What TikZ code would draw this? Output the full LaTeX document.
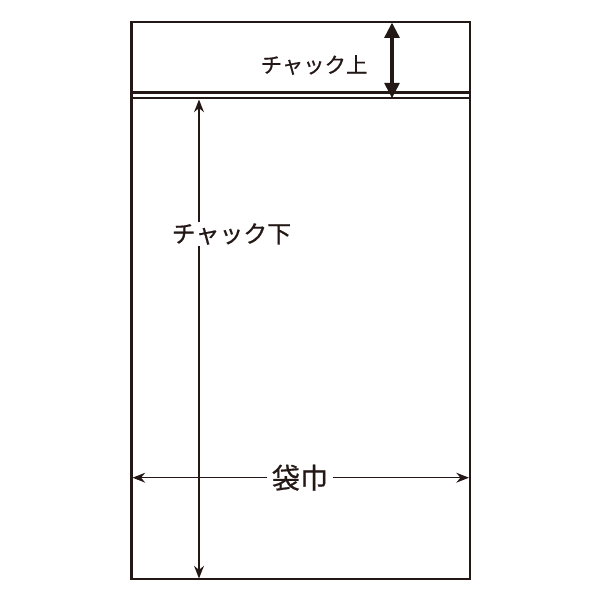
\documentclass[tikz,border=0pt]{standalone}
\usepackage{fontspec}
\newfontfamily\jpfont[FakeBold=0.6]{Noto Sans CJK JP}
\usetikzlibrary{arrows.meta}
\definecolor{inkblack}{HTML}{231815}
\begin{document}
\begin{tikzpicture}[x=0.025cm, y=-0.025cm, draw=inkblack,
  outline/.style={line width=1.5pt},
  dimlabel/.style={font=\jpfont, text=inkblack, fill=white, inner sep=3pt},
  dimline/.style={{Stealth[length=9pt,width=7pt]}-{Stealth[length=9pt,width=7pt]}, line width=1.1pt},
  bolddim/.style={{Triangle[length=11pt,width=10.5pt]}-{Triangle[length=11pt,width=10.5pt]}, line width=2.6pt}]
  \useasboundingbox (0,0) rectangle (600,600);

  % bag outline and zipper
  \draw[outline] (131.5,22) rectangle (470,579);
  \draw[outline] (131.5,92.5) -- (470,92.5);
  \draw[outline] (131.5,98.3) -- (470,98.3);

  % dimension end points
  \coordinate (zipTop) at (392,22.5);
  \coordinate (zipBot) at (392,98.3);
  \coordinate (lowTop) at (199,99.5);
  \coordinate (lowBot) at (199,578.5);
  \coordinate (widL) at (132.5,477.7);
  \coordinate (widR) at (469,477.7);

  % dimensions
  \draw[bolddim] (zipTop) -- (zipBot);
  \draw[dimline] (lowTop) -- (lowBot);
  \draw[dimline] (widL) -- (widR);

  % labels
  \node[font=\jpfont\fontsize{15.2pt}{17pt}\selectfont, text=inkblack] (upper) at (314,65) {チャック上};
  \node[dimlabel, font=\jpfont\fontsize{17pt}{19pt}\selectfont, inner sep=1pt] (lower) at (231.5,234) {チャック下};
  \node[dimlabel, font=\jpfont\fontsize{20pt}{22pt}\selectfont, inner xsep=3.5pt] (width) at (300,477.7) {袋巾};
\end{tikzpicture}
\end{document}
